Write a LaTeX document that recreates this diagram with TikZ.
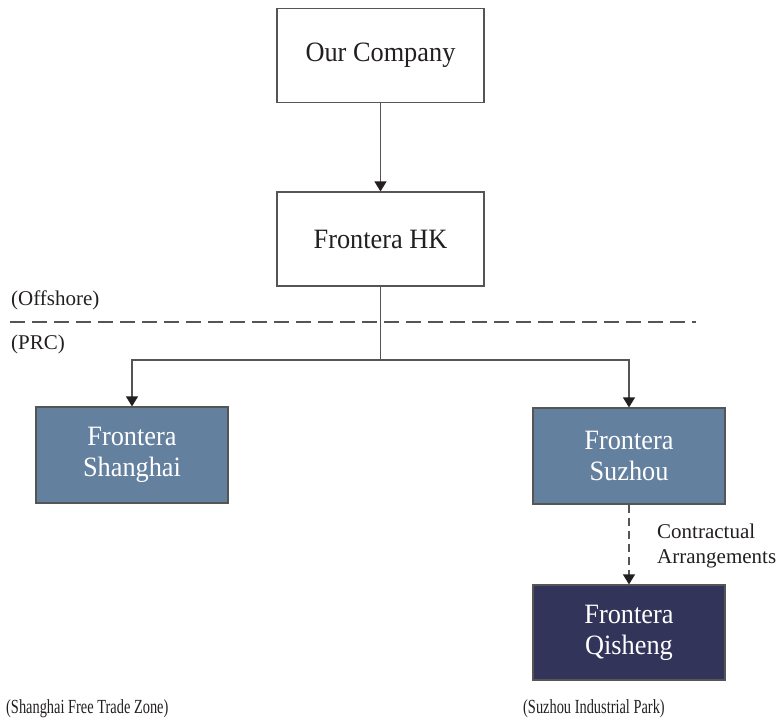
\documentclass[tikz,border=0pt]{standalone}
\usepackage{fontspec}
\setmainfont{Liberation Serif}
\newfontfamily\narrowserif[FakeStretch=0.72]{Liberation Serif}
\newfontfamily\boxserif[FakeStretch=0.94]{Liberation Serif}
\definecolor{inkgray}{HTML}{231F20}
\definecolor{wiregray}{HTML}{555555}
\definecolor{subblue}{HTML}{64809F}
\definecolor{opconavy}{HTML}{32345A}
\usetikzlibrary{arrows.meta, positioning}

\begin{document}
\begin{tikzpicture}[
        x=1pt, y=-1pt,
        topbox/.style={draw=wiregray, fill=white, line width=1.2pt,
                     minimum width=207pt, minimum height=94pt,
                     font=\boxserif\fontsize{28}{31}\selectfont, text=inkgray, align=center},
        subbox/.style={draw=wiregray, line width=1.2pt,
                     minimum width=192pt, minimum height=96pt,
                     font=\boxserif\fontsize{28}{31}\selectfont, text=white, align=center},
        lbl/.style={font=\fontsize{21}{25}\selectfont, text=inkgray, align=left, inner sep=0pt},
        zone/.style={font=\narrowserif\fontsize{20}{24}\selectfont, text=inkgray, inner sep=0pt},
        arr/.style={-{Triangle[length=10pt, width=12pt, color=inkgray]}, line width=1.2pt, wiregray},
        link/.style={line width=1.2pt, wiregray}
      ]
        \useasboundingbox (0,0) rectangle (780,723);

        % ownership chart
        \node[topbox] (oc) at (380.5,55.5) {Our Company};
        \node[topbox] (hk) at (380.5,239) {Frontera HK};
        \node[subbox, fill=subblue] (sh) at (132,455) {Frontera\\Shanghai};
        \node[subbox, fill=subblue] (sz) at (629,456) {Frontera\\Suzhou};
        \node[subbox, fill=opconavy, minimum height=95pt] (qs) at (629,632.5) {Frontera\\Qisheng};

        % offshore / PRC boundary
        \coordinate (divl) at (10,322);
        \coordinate (divr) at (696,322);
        \draw[link, dash pattern=on 15pt off 7pt] (divl) -- (divr);
        \node[lbl, anchor=west] (off) at (11,300) {(Offshore)};
        \node[lbl, anchor=west] (prc) at (11,344) {(PRC)};

        \coordinate (split) at (380.5,360);
        \draw[arr] (oc) -- (hk);
        \draw[link] (hk) -- (split);
        \draw[arr] (split) -| (sh);
        \draw[arr] (split) -| (sz);
        \draw[arr, dash pattern=on 8pt off 5pt] (sz) -- (qs);
        \node[lbl, anchor=west] (ca) at (657,546) {Contractual\\Arrangements};

        \node[zone, anchor=west] (ftz) at (6,709) {(Shanghai Free Trade Zone)};
        \node[zone, anchor=west] (sip) at (523,709) {(Suzhou Industrial Park)};
      \end{tikzpicture}
\end{document}
